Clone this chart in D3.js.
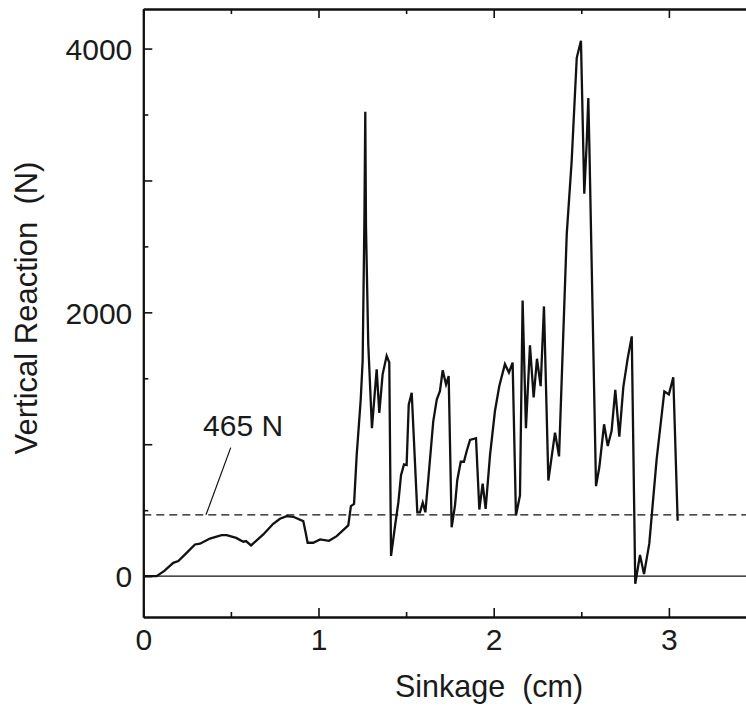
<!DOCTYPE html>
<html>
<head>
<meta charset="utf-8">
<script src="https://cdn.jsdelivr.net/npm/d3@7"></script>
<style>
  body { margin: 0; background: #fff; }
  svg text { font-family: "Liberation Sans", Arial, sans-serif; fill: #1a1a1a; white-space: pre; }
</style>
</head>
<body>
<svg width="746" height="707"></svg>
<script>
// sinkage (cm) vs vertical reaction (N)
const sinkage = [0, 0.076, 0.12, 0.171, 0.2, 0.25, 0.295, 0.324, 0.38, 0.447, 0.476, 0.53, 0.571, 0.586, 0.615,
  0.685, 0.74, 0.78, 0.818, 0.856, 0.913, 0.927, 0.938, 0.97, 1.009, 1.06, 1.104, 1.17, 1.185, 1.203,
  1.218, 1.241, 1.252, 1.262, 1.267, 1.271, 1.284, 1.305, 1.332, 1.347, 1.366, 1.389, 1.404, 1.414,
  1.437, 1.456, 1.471, 1.488, 1.503, 1.515, 1.532, 1.564, 1.579, 1.595, 1.61, 1.627, 1.655, 1.675,
  1.693, 1.709, 1.728, 1.743, 1.76, 1.779, 1.792, 1.812, 1.83, 1.846, 1.865, 1.899, 1.918, 1.937,
  1.954, 1.979, 2.007, 2.032, 2.064, 2.087, 2.108, 2.127, 2.15, 2.165, 2.184, 2.207, 2.228, 2.247,
  2.268, 2.287, 2.312, 2.35, 2.373, 2.417, 2.445, 2.474, 2.498, 2.517, 2.531, 2.54, 2.546, 2.584,
  2.603, 2.63, 2.651, 2.673, 2.694, 2.717, 2.74, 2.765, 2.788, 2.808, 2.835, 2.858, 2.888, 2.93,
  2.974, 3.0, 3.025, 3.05]
const reaction = [0, 0, 40, 101, 114, 180, 240, 246, 285, 311, 311, 290, 261, 266, 233,
  316, 395, 435, 455, 450, 417, 329, 253, 253, 278, 268, 303, 385, 531, 548,
  918, 1339, 1632, 2700, 3520, 2652, 1760, 1122, 1568, 1237, 1530, 1670, 1619, 153,
  382, 561, 765, 847, 842, 1300, 1390, 484, 484, 556, 484, 740, 1173, 1339,
  1402, 1561, 1453, 1517, 370, 535, 727, 867, 867, 949, 1033, 1046, 505, 701,
  510, 918, 1250, 1441, 1607, 1543, 1619, 459, 612, 2090, 1122, 1750, 1355, 1648,
  1440, 2045, 725, 1088, 908, 2596, 3147, 3930, 4060, 2900, 3292, 3625, 3262, 682,
  827, 1151, 986, 1102, 1412, 1058, 1435, 1653, 1818, -58, 160, 15, 246, 885,
  1400, 1378, 1508, 420]

const limitLoad = 465
const xMajor = [0, 1, 2, 3]
const xMinor = [0.5, 1.5, 2.5, 3.5]
const yMajor = [0, 1000, 2000, 3000, 4000]
const yMinor = [500, 1500, 2500, 3500]
const yLabels = [0, 2000, 4000]

const svg = d3.select('svg')
const m = {left: 143.3, right: 756.5, top: 9, bottom: 617}

const x = d3.scaleLinear().domain([0, 3.5]).range([m.left, m.right])
const y = d3.scaleLinear().domain([-310, 4300]).range([m.bottom, m.top])

const data = sinkage.map((s, i) => ({x: s, y: reaction[i]}))

//оси
function styleAxis(g){
  g.select('.domain').attr('stroke', '#111').attr('stroke-width', 2)
  g.selectAll('.tick line').attr('stroke', '#111').attr('stroke-width', 1.6)
  g.selectAll('.tick text').style('font-size', '30px').attr('fill', '#1a1a1a')
}

svg.append('g').attr('transform', `translate(${m.left},0)`)
  .call(d3.axisLeft(y).tickValues(yMajor).tickSizeInner(-9).tickSizeOuter(0).tickPadding(11)
    .tickFormat(d => yLabels.includes(d) ? d : ''))
  .call(styleAxis)
  .call(g => g.selectAll('.tick text').attr('dy', '0.36em'))
svg.append('g').attr('transform', `translate(${m.left},0)`)
  .call(d3.axisLeft(y).tickValues(yMinor).tickSizeInner(-5).tickSizeOuter(0).tickFormat(''))
  .call(styleAxis)

svg.append('g').attr('transform', `translate(0,${m.bottom})`)
  .call(d3.axisBottom(x).tickValues(xMajor).tickSizeInner(-9).tickSizeOuter(0)
    .tickFormat(d3.format('d')))
  .call(styleAxis)
  .call(g => g.selectAll('.tick text').attr('dy', '0.72em').attr('y', 11))
svg.append('g').attr('transform', `translate(0,${m.bottom})`)
  .call(d3.axisBottom(x).tickValues(xMinor).tickSizeInner(-5).tickSizeOuter(0).tickFormat(''))
  .call(styleAxis)

svg.append('g').attr('transform', `translate(0,${m.top})`)
  .call(d3.axisTop(x).tickValues(xMajor).tickSizeInner(-9).tickSizeOuter(0).tickFormat(''))
  .call(styleAxis)
svg.append('g').attr('transform', `translate(0,${m.top})`)
  .call(d3.axisTop(x).tickValues(xMinor).tickSizeInner(-5).tickSizeOuter(0).tickFormat(''))
  .call(styleAxis)

//нулевая линия и линия 465 Н
svg.append('line')
  .attr('x1', m.left).attr('x2', m.right)
  .attr('y1', y(0)).attr('y2', y(0))
  .attr('stroke', '#111').attr('stroke-width', 1.4)

svg.append('line')
  .attr('x1', m.left).attr('x2', m.right)
  .attr('y1', y(limitLoad)).attr('y2', y(limitLoad))
  .attr('stroke', '#111').attr('stroke-width', 1.3)
  .attr('stroke-dasharray', '8,5')

//кривая
const line = d3.line()
  .x(d => x(d.x))
  .y(d => y(d.y))

svg.append('path')
  .attr('d', line(data))
  .attr('fill', 'none')
  .attr('stroke', '#111')
  .attr('stroke-width', 2.3)
  .attr('stroke-linejoin', 'miter')

//подпись 465 N
svg.append('text')
  .attr('x', x(0.341)).attr('y', y(1060))
  .style('font-size', '30px')
  .text(limitLoad + ' N')
svg.append('line')
  .attr('x1', x(0.499)).attr('y1', y(974))
  .attr('x2', x(0.358)).attr('y2', y(limitLoad))
  .attr('stroke', '#111').attr('stroke-width', 1.2)

//названия осей
svg.append('text')
  .attr('x', 395).attr('y', 697)
  .style('font-size', '30.5px')
  .text('Sinkage  (cm)')

svg.append('text')
  .attr('transform', 'translate(37,308) rotate(-90)')
  .attr('text-anchor', 'middle')
  .style('font-size', '31px')
  .text('Vertical Reaction  (N)')
</script>
</body>
</html>
